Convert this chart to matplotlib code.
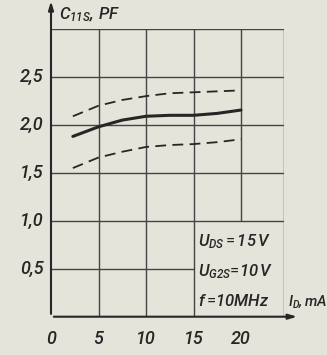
import matplotlib

matplotlib.use("Agg")
import matplotlib.pyplot as plt

# drain current vs input capacitance, typical curve with spread limits
id_ma = [2.3, 5, 7.5, 10, 12.5, 15, 17.5, 20]
c_typ = [1.88, 1.98, 2.05, 2.09, 2.10, 2.10, 2.12, 2.155]
c_max = [2.09, 2.20, 2.26, 2.30, 2.33, 2.34, 2.35, 2.36]
c_min = [1.55, 1.66, 1.72, 1.77, 1.79, 1.80, 1.82, 1.85]

x_ticks = [0, 5, 10, 15, 20]
y_ticks = [0.5, 1.0, 1.5, 2.0, 2.5]
y_labels = ["0,5", "1,0", "1,5", "2,0", "2,5"]
x_edge, y_edge = 24.5, 3.0
conditions = [r"$U_{DS}\,$=$\,15\,V$", r"$U_{G2S}$=$10\,V$", r"$f\,$=$10MHz$"]

FONT = "Roboto"
plt.rcParams["font.family"] = [FONT, "DejaVu Sans"]
plt.rcParams["mathtext.fontset"] = "custom"
plt.rcParams["mathtext.rm"] = FONT + ":italic:medium"
plt.rcParams["mathtext.it"] = FONT + ":italic:medium"
plt.rcParams["mathtext.default"] = "it"

BG = "#e4e4da"
INK = "#262626"
GRID = "#444444"

fig = plt.figure(figsize=(3.27, 3.55), dpi=100, facecolor=BG)
ax = fig.add_axes([51 / 327, 1 - 316.7 / 355, (283.75 - 51) / 327, (316.7 - 29) / 355])
ax.set_facecolor(BG)
ax.set_xlim(0, x_edge)
ax.set_ylim(0, y_edge)
for s in ax.spines.values():
    s.set_visible(False)
ax.set_xticks([])
ax.set_yticks([])

# grid, left open where the operating conditions sit
gkw = dict(color=GRID, lw=1.0, zorder=1)
for x in x_ticks[1:4]:
    ax.vlines(x, 0, y_edge, **gkw)
ax.vlines(20, 1.0, y_edge, **gkw)
ax.vlines(x_edge, 0, y_edge, **gkw)
for y in y_ticks[1:]:
    ax.hlines(y, 0, x_edge, **gkw)
ax.hlines(0.5, 0, 15, **gkw)
ax.hlines(y_edge, 0, x_edge, **gkw)

# axes with arrow heads
akw = dict(arrowstyle="-|>,head_length=0.5,head_width=0.15", color=INK, lw=1.5)
ax.annotate("", xy=(26.2, 0), xytext=(0, 0), arrowprops=akw, annotation_clip=False)
ax.annotate("", xy=(0, 3.32), xytext=(0, 0), arrowprops=akw, annotation_clip=False)

ax.plot(id_ma, c_typ, color=INK, lw=2.2, solid_capstyle="round", zorder=3)
for c in (c_max, c_min):
    ax.plot(id_ma, c, color=INK, lw=1.3, dashes=(6, 3.5), zorder=3)

tkw = dict(fontsize=13, style="italic", weight="medium", color=INK)
for x in x_ticks:
    ax.text(x, -0.23, str(x), ha="center", va="center", **tkw)
for y, lab in zip(y_ticks, y_labels):
    ax.text(-0.8, y, lab, ha="right", va="center", **tkw)

for i, t in enumerate(conditions):
    ax.text(15.5, 0.78 - 0.31 * i, t, ha="left", va="center", fontsize=12, color=INK)

ax.text(0.8, 3.15, r"$C_{11S},\,PF$", ha="left", va="center", fontsize=12, color=INK)
ax.text(24.9, 0.16, r"$I_{D},mA$", ha="left", va="center", fontsize=10.5, color=INK)

fig.savefig("out.png", dpi=100, facecolor=BG)
